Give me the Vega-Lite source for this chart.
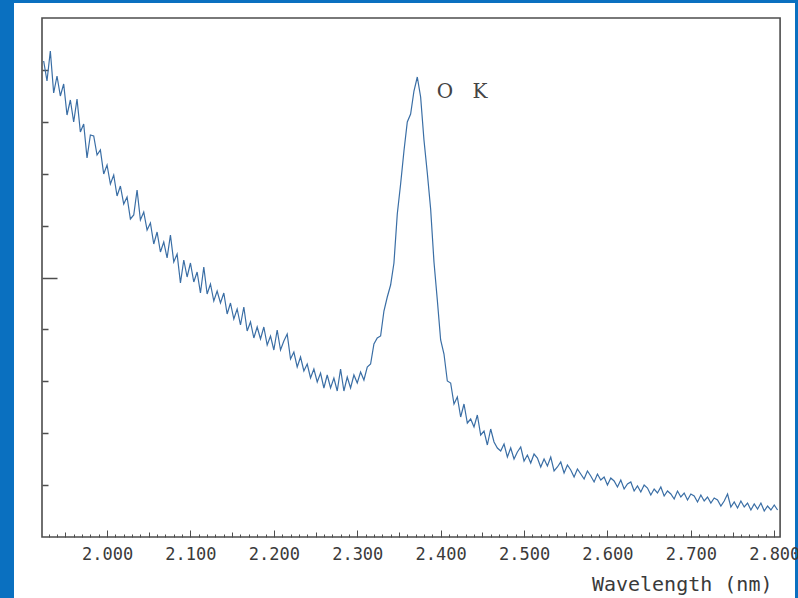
{
  "$schema": "https://vega.github.io/schema/vega-lite/v6.json",
  "width": 781,
  "height": 595,
  "padding": {"left": 14, "top": 3, "right": 3, "bottom": 0},
  "autosize": {"type": "none"},
  "background": "#0a70c0",
  "view": {"fill": "white", "stroke": null},
  "datasets": {
    "ann": [{"w": 2.4052, "c": 445, "label": "O"}, {"w": 2.4472, "c": 445, "label": "K"}],
    "spec": [
      {"w":1.924,"c":476},{"w":1.928,"c":456},{"w":1.932,"c":486},{"w":1.936,"c":444},{"w":1.940,"c":461},{"w":1.944,"c":441},{"w":1.948,"c":453},{"w":1.952,"c":422},{"w":1.956,"c":437},{"w":1.960,"c":415},
      {"w":1.964,"c":438},{"w":1.968,"c":405},{"w":1.972,"c":413},{"w":1.976,"c":379},{"w":1.980,"c":402},{"w":1.984,"c":401},{"w":1.988,"c":382},{"w":1.992,"c":387},{"w":1.996,"c":363},{"w":2.000,"c":372},
      {"w":2.004,"c":353},{"w":2.008,"c":362},{"w":2.012,"c":341},{"w":2.016,"c":351},{"w":2.020,"c":333},{"w":2.024,"c":340},{"w":2.028,"c":318},{"w":2.032,"c":322},{"w":2.036,"c":347},{"w":2.040,"c":317},
      {"w":2.044,"c":325},{"w":2.048,"c":307},{"w":2.052,"c":314},{"w":2.056,"c":293},{"w":2.060,"c":305},{"w":2.064,"c":285},{"w":2.068,"c":295},{"w":2.072,"c":279},{"w":2.076,"c":302},{"w":2.080,"c":275},
      {"w":2.084,"c":283},{"w":2.088,"c":254},{"w":2.092,"c":277},{"w":2.096,"c":260},{"w":2.100,"c":274},{"w":2.104,"c":255},{"w":2.108,"c":265},{"w":2.112,"c":244},{"w":2.116,"c":270},{"w":2.120,"c":243},
      {"w":2.124,"c":253},{"w":2.128,"c":236},{"w":2.132,"c":246},{"w":2.136,"c":234},{"w":2.140,"c":244},{"w":2.144,"c":223},{"w":2.148,"c":234},{"w":2.152,"c":218},{"w":2.156,"c":228},{"w":2.160,"c":212},
      {"w":2.164,"c":230},{"w":2.168,"c":206},{"w":2.172,"c":215},{"w":2.176,"c":199},{"w":2.180,"c":210},{"w":2.184,"c":198},{"w":2.188,"c":210},{"w":2.192,"c":192},{"w":2.196,"c":201},{"w":2.200,"c":187},
      {"w":2.204,"c":207},{"w":2.208,"c":187},{"w":2.212,"c":196},{"w":2.216,"c":203},{"w":2.220,"c":178},{"w":2.224,"c":185},{"w":2.228,"c":170},{"w":2.232,"c":180},{"w":2.236,"c":166},{"w":2.240,"c":173},
      {"w":2.244,"c":159},{"w":2.248,"c":168},{"w":2.252,"c":155},{"w":2.256,"c":164},{"w":2.260,"c":149},{"w":2.264,"c":162},{"w":2.268,"c":149},{"w":2.272,"c":159},{"w":2.276,"c":146},{"w":2.280,"c":168},
      {"w":2.284,"c":146},{"w":2.288,"c":160},{"w":2.292,"c":149},{"w":2.296,"c":162},{"w":2.300,"c":154},{"w":2.304,"c":165},{"w":2.308,"c":157},{"w":2.312,"c":170},{"w":2.316,"c":173},{"w":2.320,"c":193},
      {"w":2.324,"c":199},{"w":2.328,"c":201},{"w":2.332,"c":226},{"w":2.336,"c":240},{"w":2.340,"c":252},{"w":2.344,"c":274},{"w":2.348,"c":323},{"w":2.352,"c":353},{"w":2.356,"c":386},{"w":2.360,"c":415},
      {"w":2.364,"c":423},{"w":2.368,"c":446},{"w":2.372,"c":460},{"w":2.376,"c":440},{"w":2.380,"c":397},{"w":2.384,"c":364},{"w":2.388,"c":328},{"w":2.392,"c":275},{"w":2.396,"c":237},{"w":2.400,"c":197},
      {"w":2.404,"c":183},{"w":2.408,"c":156},{"w":2.412,"c":154},{"w":2.416,"c":133},{"w":2.420,"c":140},{"w":2.424,"c":120},{"w":2.428,"c":133},{"w":2.432,"c":114},{"w":2.436,"c":118},{"w":2.440,"c":110},
      {"w":2.444,"c":122},{"w":2.448,"c":102},{"w":2.452,"c":106},{"w":2.456,"c":92},{"w":2.460,"c":108},{"w":2.464,"c":95},{"w":2.468,"c":89},{"w":2.472,"c":86},{"w":2.476,"c":93},{"w":2.480,"c":80},
      {"w":2.484,"c":89},{"w":2.488,"c":78},{"w":2.492,"c":85},{"w":2.496,"c":90},{"w":2.500,"c":76},{"w":2.504,"c":82},{"w":2.508,"c":74},{"w":2.512,"c":83},{"w":2.516,"c":79},{"w":2.520,"c":70},
      {"w":2.524,"c":78},{"w":2.528,"c":71},{"w":2.532,"c":80},{"w":2.536,"c":66},{"w":2.540,"c":70},{"w":2.544,"c":75},{"w":2.548,"c":64},{"w":2.552,"c":72},{"w":2.556,"c":67},{"w":2.560,"c":60},
      {"w":2.564,"c":68},{"w":2.568,"c":63},{"w":2.572,"c":58},{"w":2.576,"c":66},{"w":2.580,"c":61},{"w":2.584,"c":55},{"w":2.588,"c":63},{"w":2.592,"c":57},{"w":2.596,"c":60},{"w":2.600,"c":52},
      {"w":2.604,"c":59},{"w":2.608,"c":56},{"w":2.612,"c":50},{"w":2.616,"c":57},{"w":2.620,"c":48},{"w":2.624,"c":53},{"w":2.628,"c":55},{"w":2.632,"c":46},{"w":2.636,"c":51},{"w":2.640,"c":45},
      {"w":2.644,"c":52},{"w":2.648,"c":49},{"w":2.652,"c":42},{"w":2.656,"c":48},{"w":2.660,"c":44},{"w":2.664,"c":50},{"w":2.668,"c":41},{"w":2.672,"c":46},{"w":2.676,"c":43},{"w":2.680,"c":38},
      {"w":2.684,"c":46},{"w":2.688,"c":40},{"w":2.692,"c":44},{"w":2.696,"c":37},{"w":2.700,"c":43},{"w":2.704,"c":41},{"w":2.708,"c":35},{"w":2.712,"c":42},{"w":2.716,"c":36},{"w":2.720,"c":40},
      {"w":2.724,"c":34},{"w":2.728,"c":39},{"w":2.732,"c":37},{"w":2.736,"c":31},{"w":2.740,"c":36},{"w":2.744,"c":43},{"w":2.748,"c":30},{"w":2.752,"c":35},{"w":2.756,"c":29},{"w":2.760,"c":36},
      {"w":2.764,"c":30},{"w":2.768,"c":34},{"w":2.772,"c":27},{"w":2.776,"c":33},{"w":2.780,"c":28},{"w":2.784,"c":34},{"w":2.788,"c":26},{"w":2.792,"c":31},{"w":2.796,"c":27},{"w":2.800,"c":32},
      {"w":2.804,"c":27}
    ]
  },
  "resolve": {"axis": {"x": "independent", "y": "independent"}},
  "layer": [
    {
      "data": {"values": [{}]},
      "mark": {"type": "rect", "fill": null, "stroke": "#4d4d4d", "strokeWidth": 1.6},
      "encoding": {
        "x": {
          "datum": 1.922, "type": "quantitative",
          "scale": {"domain": [1.88843, 2.82488], "nice": false, "zero": false},
          "axis": {
            "orient": "bottom", "offset": -61,
            "values": [1.95, 2.05, 2.15, 2.25, 2.35, 2.45, 2.55, 2.65, 2.75],
            "labels": false, "domain": false, "grid": false, "title": null,
            "tickColor": "#4d4d4d", "tickWidth": 1, "tickSize": -5
          }
        },
        "x2": {"datum": 2.807},
        "y": {
          "datum": 0, "type": "quantitative",
          "scale": {"domain": [-61, 534], "nice": false, "zero": false},
          "axis": null
        },
        "y2": {"datum": 519}
      }
    },
    {
      "data": {"name": "spec"},
      "mark": {"type": "line", "color": "#3a6ea5", "strokeWidth": 1.2},
      "encoding": {
        "x": {
          "field": "w", "type": "quantitative",
          "axis": {
            "orient": "bottom", "offset": -61,
            "values": [2.0, 2.1, 2.2, 2.3, 2.4, 2.5, 2.6, 2.7, 2.8],
            "format": ".3f",
            "labelOverlap": false,
            "labelFlush": false,
            "domain": false,
            "grid": false,
            "tickColor": "#4d4d4d",
            "tickWidth": 1,
            "tickSize": -7,
            "labelFont": "DejaVu Sans Mono",
            "labelFontSize": 17,
            "labelColor": "#3a3a3a",
            "labelPadding": 16,
            "title": "Wavelength (nm)",
            "titleAlign": "right",
            "titleX": 758,
            "titleFont": "DejaVu Sans Mono",
            "titleFontSize": 20,
            "titleFontWeight": "normal",
            "titleColor": "#3a3a3a",
            "titlePadding": 12
          }
        },
        "y": {
          "field": "c", "type": "quantitative",
          "axis": {
            "orient": "left", "offset": -28,
            "values": [51.9, 103.8, 155.7, 207.6, 311.4, 363.3, 415.2, 467.1],
            "labels": false,
            "title": null,
            "grid": false,
            "domain": false,
            "tickColor": "#4d4d4d",
            "tickWidth": 1.5,
            "tickSize": -6
          }
        }
      }
    },
    {
      "data": {"name": "ann"},
      "mark": {"type": "text", "align": "center", "baseline": "middle", "font": "DejaVu Serif", "fontSize": 20, "color": "#444444"},
      "encoding": {
        "x": {
          "field": "w", "type": "quantitative",
          "axis": {
            "orient": "bottom", "offset": -61,
            "values": [1.93,1.94,1.96,1.97,1.98,1.99,2.01,2.02,2.03,2.04,2.06,2.07,2.08,2.09,2.11,2.12,2.13,2.14,2.16,2.17,2.18,2.19,2.21,2.22,2.23,2.24,2.26,2.27,2.28,2.29,2.31,2.32,2.33,2.34,2.36,2.37,2.38,2.39,2.41,2.42,2.43,2.44,2.46,2.47,2.48,2.49,2.51,2.52,2.53,2.54,2.56,2.57,2.58,2.59,2.61,2.62,2.63,2.64,2.66,2.67,2.68,2.69,2.71,2.72,2.73,2.74,2.76,2.77,2.78,2.79],
            "labels": false, "domain": false, "grid": false, "title": null,
            "tickColor": "#4d4d4d", "tickWidth": 1, "tickSize": -3
          }
        },
        "y": {
          "field": "c", "type": "quantitative",
          "axis": {
            "orient": "left", "offset": -28,
            "values": [259.5],
            "labels": false, "domain": false, "grid": false, "title": null,
            "tickColor": "#4d4d4d", "tickWidth": 1.5, "tickSize": -15
          }
        },
        "text": {"field": "label"}
      }
    }
  ]
}
